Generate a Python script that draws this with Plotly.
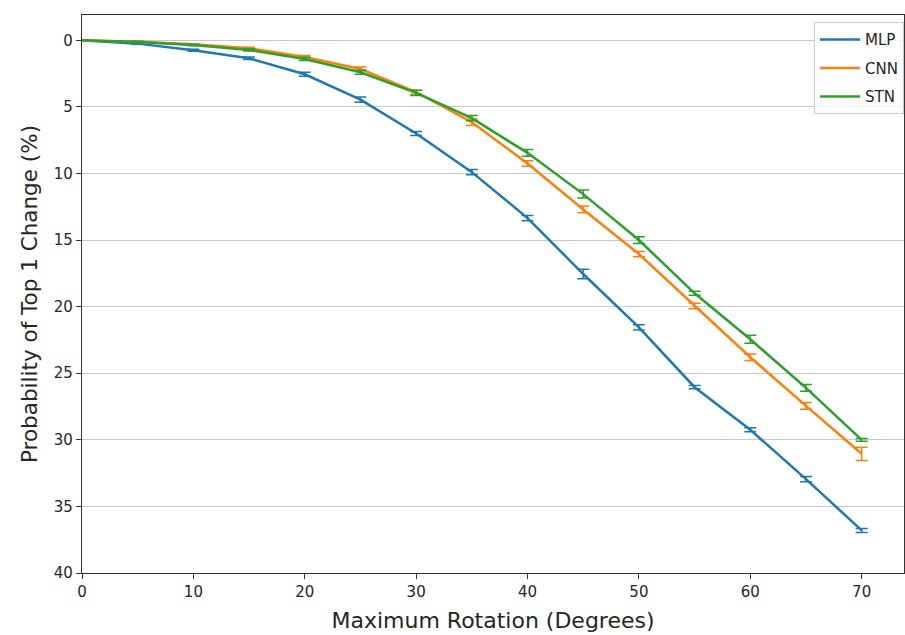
import plotly.graph_objects as go

rotation = [0, 5, 10, 15, 20, 25, 30, 35, 40, 45, 50, 55, 60, 65, 70]
mlp = [0.0, 0.25, 0.75, 1.35, 2.55, 4.45, 7.0, 9.9, 13.35, 17.55, 21.55, 26.05, 29.25, 32.95, 36.8]
mlp_err = [0.02, 0.05, 0.08, 0.1, 0.15, 0.2, 0.15, 0.2, 0.2, 0.35, 0.2, 0.12, 0.15, 0.2, 0.15]
cnn = [0.0, 0.1, 0.3, 0.6, 1.25, 2.15, 3.9, 6.15, 9.25, 12.7, 16.05, 19.95, 23.8, 27.45, 31.05]
cnn_err = [0.02, 0.04, 0.05, 0.08, 0.1, 0.15, 0.15, 0.25, 0.2, 0.25, 0.2, 0.2, 0.25, 0.25, 0.5]
stn = [0.0, 0.12, 0.35, 0.72, 1.4, 2.4, 3.95, 5.85, 8.45, 11.55, 15.0, 19.0, 22.45, 26.1, 30.0]
stn_err = [0.02, 0.04, 0.05, 0.08, 0.12, 0.15, 0.2, 0.2, 0.25, 0.3, 0.25, 0.15, 0.3, 0.25, 0.1]

names = ["MLP", "CNN", "STN"]
series = [mlp, cnn, stn]
errors = [mlp_err, cnn_err, stn_err]
colors = ["#1f77b4", "#ff7f0e", "#2ca02c"]

fig = go.Figure()
for n, s, e, c in zip(names, series, errors, colors):
    fig.add_trace(go.Scatter(
        x=rotation, y=s, name=n, mode="lines", legendgroup=n,
        line=dict(color=c, width=2.5),
        error_y=dict(type="data", array=e, visible=True, color=c, thickness=1.5, width=6),
    ))

fig.update_layout(
    width=905, height=635,
    margin=dict(l=82, r=1, t=15, b=62),
    plot_bgcolor="white", paper_bgcolor="white",
    font=dict(family="DejaVu Sans", size=15, color="#262626"),
    showlegend=True,
    legend=dict(
        x=1.0, y=0.987, xanchor="right", yanchor="top",
        bgcolor="rgba(255,255,255,0.8)", bordercolor="#cccccc", borderwidth=1,
        font=dict(size=15, family="DejaVu Sans"),
        itemwidth=40, tracegroupgap=6,
    ),
    xaxis=dict(
        range=[0, 73.8], tickmode="array", tickvals=[0, 10, 20, 30, 40, 50, 60, 70],
        showgrid=False, zeroline=False,
        showline=True, linecolor="#333333", linewidth=1.2, mirror=True,
        ticks="outside", ticklen=5, tickcolor="#333333",
        title=dict(text="Maximum Rotation (Degrees)", font=dict(size=22), standoff=12),
    ),
    yaxis=dict(
        range=[40, -1.9], tickmode="array", tickvals=[0, 5, 10, 15, 20, 25, 30, 35, 40],
        showgrid=True, gridcolor="#c8c8c8", gridwidth=1.2, zeroline=False,
        showline=True, linecolor="#333333", linewidth=1.2, mirror=True,
        ticks="outside", ticklen=5, tickcolor="#333333",
        title=dict(text="Probability of Top 1 Change (%)", font=dict(size=21.5), standoff=10),
    ),
)

fig.write_html("out.html")
